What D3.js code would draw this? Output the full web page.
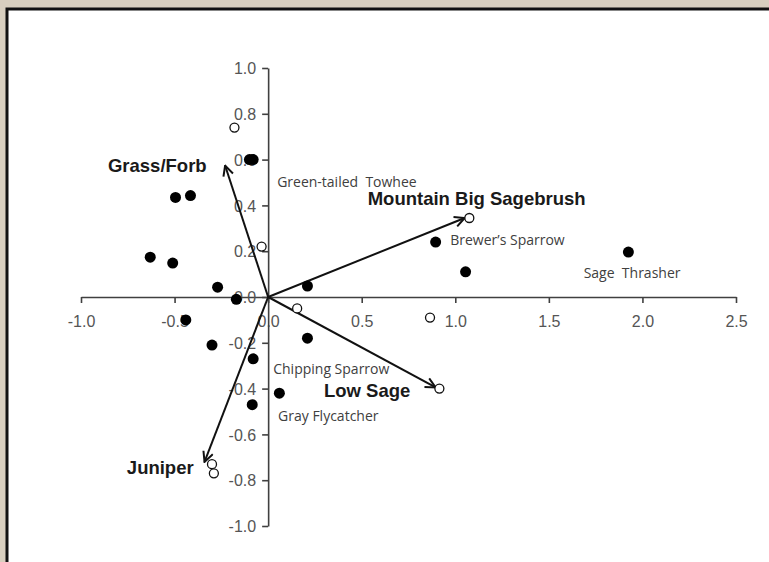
<!DOCTYPE html>
<html>
<head>
<meta charset="utf-8">
<script src="https://cdn.jsdelivr.net/npm/d3@7"></script>
<style>
  html, body { margin: 0; padding: 0; background: #d8cfbf; }
  svg { display: block; }
  .tick text { font-family: "Liberation Sans", Arial, sans-serif; font-size: 16px; fill: #555; }
  .vec-label { font-family: "Liberation Sans", Arial, sans-serif; font-size: 18.5px; font-weight: bold; fill: #1a1a1a; }
  .sp-label { font-family: "Open Sans", "Noto Sans", sans-serif; font-size: 14px; fill: #404040; white-space: pre; }
</style>
</head>
<body>
<svg id="chart" width="769" height="562"></svg>
<script>
// species scores, filled symbols
var filledX = [-0.10, -0.08, -0.495, -0.415, -0.63, -0.51, -0.27, -0.17, -0.44, -0.30, -0.08, -0.085, 0.06, 0.21, 0.21, 0.895, 1.055, 1.925];
var filledY = [0.60, 0.60, 0.435, 0.443, 0.174, 0.148, 0.043, -0.01, -0.10, -0.21, -0.27, -0.47, -0.42, 0.048, -0.18, 0.24, 0.11, 0.196];

// species scores, open symbols
var openX = [-0.18, -0.035, 0.155, 0.865, 1.075, 0.915, -0.30, -0.29];
var openY = [0.74, 0.22, -0.05, -0.09, 0.345, -0.40, -0.73, -0.77];

// habitat vectors
var vecNames = ["Grass/Forb", "Mountain Big Sagebrush", "Low Sage", "Juniper"];
var vecX = [-0.23, 1.05, 0.895, -0.34];
var vecY = [0.574, 0.345, -0.395, -0.72];
var vecLabelX = [-0.856, 0.532, 0.298, -0.755];
var vecLabelY = [0.574, 0.43, -0.409, -0.743];

// species names
var spNames = ["Green-tailed  Towhee", "Brewer\u2019s Sparrow", "Sage  Thrasher", "Chipping Sparrow", "Gray Flycatcher"];
var spX = [0.048, 0.973, 1.686, 0.027, 0.053];
var spY = [0.504, 0.252, 0.109, -0.313, -0.517];

var xTicks = [-1.0, -0.5, 0.0, 0.5, 1.0, 1.5, 2.0, 2.5];
var yTicks = [-1.0, -0.8, -0.6, -0.4, -0.2, 0.0, 0.2, 0.4, 0.6, 0.8, 1.0];

var svg = d3.select("#chart");

// white panel with the dark frame on left / top
svg.append("rect")
    .attr("x", 7).attr("y", 9)
    .attr("width", 800).attr("height", 600)
    .attr("fill", "#fff")
    .attr("stroke", "#111")
    .attr("stroke-width", 3);

var x = d3.scaleLinear().domain([-1, 2.5]).range([81, 736]);
var y = d3.scaleLinear().domain([-1, 1]).range([526, 68]);

// plain hyphen for negatives, like the original
var fmt = function(d){ return d3.format(".1f")(d).replace("\u2212", "-"); };

var xAxis = svg.append("g")
    .attr("transform", "translate(0," + y(0) + ")")
    .call(d3.axisBottom(x).tickValues(xTicks).tickFormat(fmt).tickSize(6).tickPadding(13).tickSizeOuter(0));

var yAxis = svg.append("g")
    .attr("transform", "translate(" + x(0) + ",0)")
    .call(d3.axisLeft(y).tickValues(yTicks).tickFormat(fmt).tickSize(6).tickPadding(6).tickSizeOuter(0));

[xAxis, yAxis].forEach(function(a){
    a.select(".domain").attr("stroke", "#404040").attr("stroke-width", 1.6);
    a.selectAll(".tick line").attr("stroke", "#404040").attr("stroke-width", 1.6);
});
yAxis.selectAll(".tick text").attr("dy", "0.35em");

// arrow head
svg.append("defs").append("marker")
    .attr("id", "arrow")
    .attr("viewBox", "0 0 12 12")
    .attr("refX", 11).attr("refY", 6)
    .attr("markerWidth", 12).attr("markerHeight", 12)
    .attr("markerUnits", "userSpaceOnUse")
    .attr("orient", "auto")
  .append("path")
    .attr("d", "M1,1 L11,6 L1,11")
    .attr("fill", "none")
    .attr("stroke", "#111")
    .attr("stroke-width", 2);

svg.append("g").selectAll("line")
    .data(vecNames)
    .join("line")
    .attr("x1", x(0)).attr("y1", y(0))
    .attr("x2", function(d, i){ return x(vecX[i]); })
    .attr("y2", function(d, i){ return y(vecY[i]); })
    .attr("stroke", "#111")
    .attr("stroke-width", 2)
    .attr("marker-end", "url(#arrow)");

// points
svg.append("g").selectAll("circle")
    .data(openX)
    .join("circle")
    .attr("cx", function(d){ return x(d); })
    .attr("cy", function(d, i){ return y(openY[i]); })
    .attr("r", 4.5)
    .attr("fill", "#fff")
    .attr("stroke", "#111")
    .attr("stroke-width", 1.3);

svg.append("g").selectAll("circle")
    .data(filledX)
    .join("circle")
    .attr("cx", function(d){ return x(d); })
    .attr("cy", function(d, i){ return y(filledY[i]); })
    .attr("r", 5.5)
    .attr("fill", "#000");

// labels
svg.append("g").selectAll("text")
    .data(vecNames)
    .join("text")
    .attr("class", "vec-label")
    .attr("x", function(d, i){ return x(vecLabelX[i]); })
    .attr("y", function(d, i){ return y(vecLabelY[i]); })
    .attr("dominant-baseline", "central")
    .text(function(d){ return d; });

svg.append("g").selectAll("text")
    .data(spNames)
    .join("text")
    .attr("class", "sp-label")
    .attr("x", function(d, i){ return x(spX[i]); })
    .attr("y", function(d, i){ return y(spY[i]); })
    .attr("dominant-baseline", "central")
    .text(function(d){ return d; });
</script>
</body>
</html>
